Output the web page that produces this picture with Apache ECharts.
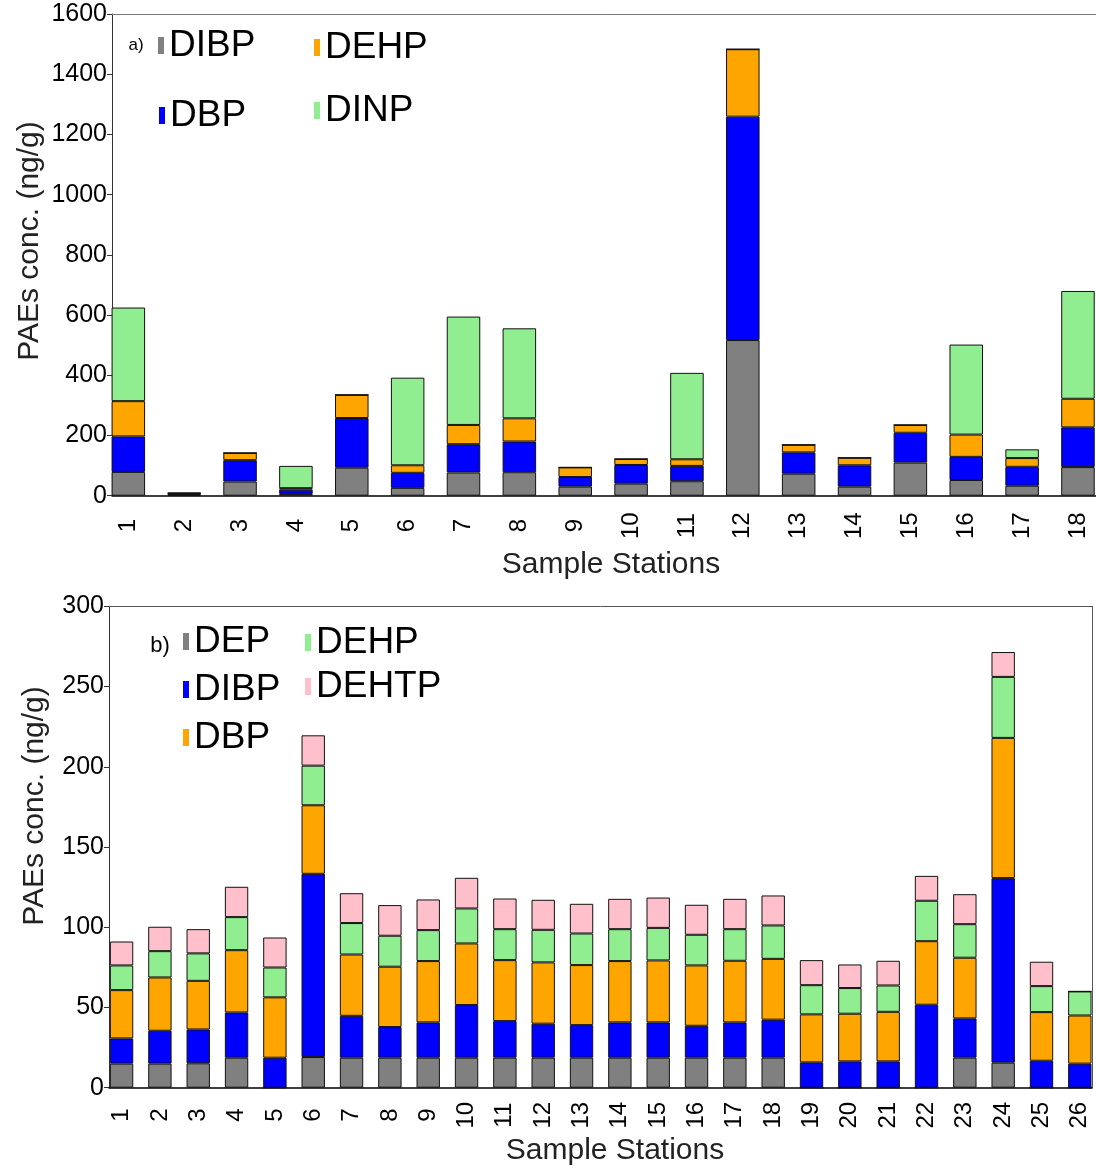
<!DOCTYPE html>
<html>
<head>
<meta charset="utf-8">
<script src="https://cdn.jsdelivr.net/npm/echarts@6/dist/echarts.min.js"></script>
<style>
html,body{margin:0;padding:0;background:#ffffff;}
#chart{width:1096px;height:1168px;}
</style>
</head>
<body>
<div id="chart"></div>
<script>
// ---------- Data: panel a ----------
const stationsA = ['1','2','3','4','5','6','7','8','9','10','11','12','13','14','15','16','17','18'];
const DIBP_a = [79, 3, 47, 6, 93, 26, 77, 78, 30, 40, 48, 517, 73, 30, 110, 52, 33, 95];
const DBP_a  = [118, 3, 71, 14, 165, 50, 94, 102, 32, 62, 51, 742, 71, 71, 99, 77, 63, 132];
const DEHP_a = [117, 2, 24, 5, 77, 25, 64, 77, 32, 20, 22, 224, 25, 25, 26, 74, 29, 95];
const DINP_a = [311, 2, 0, 74, 0, 291, 360, 299, 0, 0, 287, 0, 0, 0, 0, 299, 29, 358];
const yTicksA = { min: 0, max: 1600, interval: 200 };

// ---------- Data: panel b ----------
const stationsB = ['1','2','3','4','5','6','7','8','9','10','11','12','13','14','15','16','17','18','19','20','21','22','23','24','25','26'];
const DEP_b   = [15, 15, 15.2, 18.7, 0, 19.1, 18.7, 18.7, 18.7, 18.7, 18.7, 18.7, 18.7, 18.7, 18.7, 18.7, 18.7, 18.7, 0, 0, 0, 0, 18.7, 15.6, 0, 0];
const DIBP_b  = [15.7, 20.5, 21.1, 28.2, 18.7, 114.2, 26.1, 19.1, 22, 32.8, 22.8, 21.2, 20.3, 22, 22, 19.9, 22, 23.7, 15.8, 16.4, 16.4, 51.7, 24.5, 115, 16.8, 15];
const DBP_b   = [30.1, 33.2, 30.3, 38.8, 37.6, 42.7, 38.2, 37.6, 38.2, 38.4, 38, 38.2, 37.4, 38.2, 38.6, 37.6, 38.4, 37.9, 29.9, 29.7, 30.9, 39.6, 37.8, 87.4, 30.3, 30];
const DEHP_b  = [15.4, 16.4, 17.1, 20.6, 18.6, 24.7, 19.6, 19.3, 19.3, 21.8, 19.3, 20.3, 19.7, 19.9, 20.3, 19.1, 19.7, 20.8, 18.2, 16, 16.4, 25.2, 20.9, 38, 16.2, 15];
const DEHTP_b = [14.9, 15.2, 15.1, 18.9, 18.7, 18.9, 18.6, 19.1, 19.1, 19.1, 19.1, 18.7, 18.5, 18.9, 18.9, 18.7, 18.9, 18.7, 15.6, 14.7, 15.4, 15.5, 18.7, 15.5, 15.2, 0];
const yTicksB = { min: 0, max: 300, interval: 50 };

// ---------- Styles ----------
const FONT = "'Liberation Sans', Arial, sans-serif";
const C = { gray: '#808080', blue: '#0000FF', orange: '#FFA500', green: '#90EE90', pink: '#FFC0CB' };

const seriesA = [
  { name: 'DIBP', data: DIBP_a, color: C.gray },
  { name: 'DBP',  data: DBP_a,  color: C.blue },
  { name: 'DEHP', data: DEHP_a, color: C.orange },
  { name: 'DINP', data: DINP_a, color: C.green }
];
const seriesB = [
  { name: 'DEP',   data: DEP_b,   color: C.gray },
  { name: 'DIBP',  data: DIBP_b,  color: C.blue },
  { name: 'DBP',   data: DBP_b,   color: C.orange },
  { name: 'DEHP',  data: DEHP_b,  color: C.green },
  { name: 'DEHTP', data: DEHTP_b, color: C.pink }
];

function barSeries(list, xIdx, yIdx, stack, widthPct) {
  return list.map(s => ({
    type: 'bar', name: s.name, data: s.data, stack: stack,
    xAxisIndex: xIdx, yAxisIndex: yIdx,
    barWidth: widthPct,
    itemStyle: { color: s.color, borderColor: '#111', borderWidth: 1 },
    emphasis: { disabled: true },
    animation: false
  }));
}

function legendItem(name, color, left, cy) {
  return {
    data: [{ name: name, itemStyle: { color: color, borderWidth: 0 } }],
    left: left, top: cy - 19, padding: 0,
    icon: 'rect', itemWidth: 6, itemHeight: 17,
    selectedMode: false,
    itemStyle: { borderWidth: 0 },
    textStyle: { fontSize: 37, fontFamily: FONT, color: '#000' }
  };
}

function frameAxis(gridIndex, position, color, width) {
  return { gridIndex: gridIndex, type: 'value', min: 0, max: 1, position: position,
    axisLine: { show: true, onZero: false, lineStyle: { color: color, width: width } },
    axisTick: { show: false }, axisLabel: { show: false }, splitLine: { show: false } };
}

const plain = v => String(v);
const gridA = { top: 14, bottom: 1168 - 495.7 };
const gridB = { top: 606.3, bottom: 1168 - 1087.7 };

const option = {
  backgroundColor: '#ffffff',
  animation: false,
  grid: [
    { left: 100.4, right: -9.9, top: gridA.top, bottom: gridA.bottom, outerBoundsMode: 'none' },
    { left: 112, right: -10, top: gridA.top, bottom: gridA.bottom, outerBoundsMode: 'none' },
    { left: 102.4, right: -3, top: gridB.top, bottom: gridB.bottom, outerBoundsMode: 'none' },
    { left: 109, right: 4, top: gridB.top, bottom: gridB.bottom, outerBoundsMode: 'none' }
  ],
  xAxis: [
    { gridIndex: 0, type: 'category', data: stationsA,
      axisLine: { show: false }, axisTick: { show: false },
      axisLabel: { interval: 0, rotate: 90, align: 'center', verticalAlign: 'middle', margin: 30,
                   fontSize: 24, fontFamily: FONT, color: '#000' } },
    frameAxis(1, 'bottom', '#000', 1.5),
    frameAxis(1, 'top', '#777', 1),
    { gridIndex: 2, type: 'category', data: stationsB,
      axisLine: { show: false }, axisTick: { show: false },
      axisLabel: { interval: 0, rotate: 90, align: 'center', verticalAlign: 'middle', margin: 27.5,
                   fontSize: 24, fontFamily: FONT, color: '#000' } },
    frameAxis(3, 'bottom', '#000', 1.5),
    frameAxis(3, 'top', '#555', 1)
  ],
  yAxis: [
    { gridIndex: 0, type: 'value', min: yTicksA.min, max: yTicksA.max, interval: yTicksA.interval, show: false },
    { gridIndex: 1, type: 'value', min: yTicksA.min, max: yTicksA.max, interval: yTicksA.interval, position: 'left',
      axisLine: { show: true, onZero: false, lineStyle: { color: '#333', width: 1 } },
      axisTick: { show: true, length: 5, lineStyle: { color: '#333' } },
      axisLabel: { margin: 5, fontSize: 25, fontFamily: FONT, color: '#000', formatter: plain },
      splitLine: { show: false } },
    { gridIndex: 2, type: 'value', min: yTicksB.min, max: yTicksB.max, interval: yTicksB.interval, show: false },
    { gridIndex: 3, type: 'value', min: yTicksB.min, max: yTicksB.max, interval: yTicksB.interval, position: 'left',
      axisLine: { show: true, onZero: false, lineStyle: { color: '#333', width: 1 } },
      axisTick: { show: true, length: 5, lineStyle: { color: '#333' } },
      axisLabel: { margin: 5, fontSize: 25, fontFamily: FONT, color: '#000', formatter: plain },
      splitLine: { show: false } },
    frameAxis(3, 'right', '#555', 1)
  ],
  legend: [
    legendItem('DIBP', C.gray, 158, 46),
    legendItem('DEHP', C.orange, 314, 48),
    legendItem('DBP', C.blue, 159, 116),
    legendItem('DINP', C.green, 314, 111),
    legendItem('DEP', C.gray, 183, 642),
    legendItem('DIBP', C.blue, 183, 690),
    legendItem('DBP', C.orange, 183, 738),
    legendItem('DEHP', C.green, 305, 643),
    legendItem('DEHTP', C.pink, 305, 687)
  ],
  graphic: [
    { type: 'text', x: 136, y: 45, style: { text: 'a)', font: "17px 'Liberation Sans', Arial, sans-serif", fill: '#000', align: 'center', verticalAlign: 'middle' } },
    { type: 'text', x: 160, y: 646, style: { text: 'b)', font: "22px 'Liberation Sans', Arial, sans-serif", fill: '#000', align: 'center', verticalAlign: 'middle' } },
    { type: 'text', x: 30, y: 241, rotation: Math.PI / 2, style: { text: 'PAEs conc. (ng/g)', font: "30px 'Liberation Sans', Arial, sans-serif", fill: '#222', align: 'center', verticalAlign: 'middle' } },
    { type: 'text', x: 35, y: 806, rotation: Math.PI / 2, style: { text: 'PAEs conc. (ng/g)', font: "30px 'Liberation Sans', Arial, sans-serif", fill: '#222', align: 'center', verticalAlign: 'middle' } },
    { type: 'text', x: 611, y: 565, style: { text: 'Sample Stations', font: "30px 'Liberation Sans', Arial, sans-serif", fill: '#222', align: 'center', verticalAlign: 'middle' } },
    { type: 'text', x: 615, y: 1151, style: { text: 'Sample Stations', font: "30px 'Liberation Sans', Arial, sans-serif", fill: '#222', align: 'center', verticalAlign: 'middle' } }
  ],
  series: [].concat(barSeries(seriesA, 0, 0, 'a', '60%'), barSeries(seriesB, 3, 2, 'b', '61%'))
};

const chart = echarts.init(document.getElementById('chart'), null, { renderer: 'canvas' });
chart.setOption(option);
</script>
</body>
</html>
